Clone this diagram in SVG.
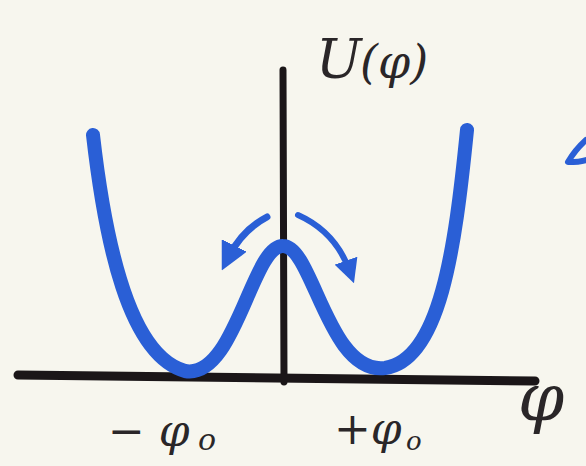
<svg xmlns="http://www.w3.org/2000/svg" width="586" height="466" viewBox="0 0 586 466">
<style>
.ink{fill:none;stroke:#1b1618;stroke-linecap:round;stroke-linejoin:round}
.blue{fill:none;stroke:#2a5fd6;stroke-linecap:round;stroke-linejoin:round}
.lbl{font-family:"DejaVu Serif","Liberation Serif",serif;font-style:italic;fill:#2a2628}
</style>
<defs>
<marker id="ah" viewBox="0 0 10 10" refX="5" refY="5" markerWidth="4" markerHeight="4" orient="auto-start-reverse">
<path d="M0,0 L10,5 L0,10 z" fill="#2a5fd6"/>
</marker>
</defs>
<rect width="586" height="466" fill="#f7f6ee"/>
<g id="axes">
<path class="ink" d="M283,70 L284,382" stroke-width="7"/>
<path class="ink" d="M18,375 Q270,378 535,381" stroke-width="9"/>
</g>
<g id="curve">
<path class="blue" stroke-width="14" d="M93,135 C105,240 128,355 185,371 C235,380 252,245 283,246 C313,246 328,375 385,368 C440,360 455,250 467,130"/>
</g>
<g id="connectors">
<path class="blue" stroke-width="7" d="M267,217 Q242,230 228,258" marker-end="url(#ah)"/>
<path class="blue" stroke-width="6" d="M298,215 Q336,232 350,272" marker-end="url(#ah)"/>
</g>
<g id="mark">
<path class="blue" stroke-width="6" d="M586,140 Q575,150 568,162 Q580,162 586,160"/>
</g>
<g id="labels">
<text class="lbl" x="316" y="78" font-size="54">U</text>
<text class="lbl" x="360" y="78" font-size="46">(φ)</text>
<text class="lbl" x="518" y="420" font-size="66">φ</text>
<text class="lbl" x="108" y="446" font-size="44">− φ</text>
<text class="lbl" x="198" y="450" font-size="30">o</text>
<text class="lbl" x="334" y="444" font-size="44">+φ</text>
<text class="lbl" x="406" y="450" font-size="26">o</text>
</g>
</svg>
